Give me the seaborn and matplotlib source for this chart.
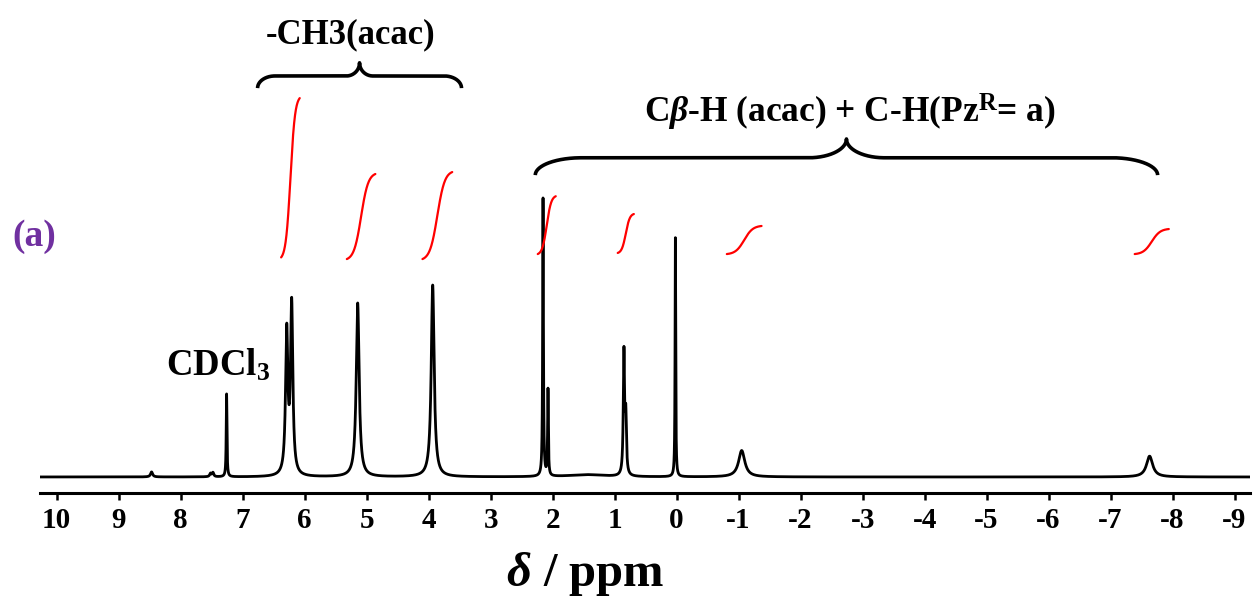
import numpy as np
import pandas as pd
import matplotlib
matplotlib.use("Agg")
import matplotlib.pyplot as plt
import seaborn as sns

# ---- spectrum peaks ----
peak_ppm = [8.47, 7.52, 7.48, 7.26, 6.29, 6.21, 5.145, 3.935, 2.155, 2.075, 1.45, 0.85, 0.82, 0.02, -1.05, -7.63]
peak_height = [1.8, 1.2, 1.5, 29.8, 51.0, 61.0, 62.5, 69.0, 100.0, 31.0, 0.8, 44.0, 20.0, 86.0, 9.5, 7.5]
peak_hwhm = [0.02, 0.015, 0.015, 0.007, 0.022, 0.022, 0.028, 0.028, 0.007, 0.007, 0.35, 0.012, 0.012, 0.006, 0.06, 0.06]

# ---- integral curves (start/end positions) ----
int_ppm_start = [6.38, 5.32, 4.10, 2.24, 0.95, -0.81, -7.39]
int_ppm_end = [6.08, 4.86, 3.62, 1.95, 0.69, -1.37, -7.94]
int_y_start = [79.0, 78.4, 78.4, 80.2, 80.6, 80.2, 80.2]
int_y_end = [136.3, 109.0, 109.7, 101.0, 94.6, 90.3, 89.2]

# ---- braces ----
brace_ppm_left = [6.76, 2.28]
brace_ppm_right = [3.47, -7.76]
brace_y_end = [139.9, 108.6]
brace_y_tip = [149.0, 121.6]

tick_values = list(range(10, -10, -1))
tick_labels = [str(v) for v in tick_values]

sns.set_theme(style="white")
plt.rcParams['font.family'] = ['Liberation Serif', 'DejaVu Serif']
plt.rcParams['font.weight'] = 'bold'
plt.rcParams['mathtext.fontset'] = 'custom'
plt.rcParams['mathtext.rm'] = 'Liberation Serif:bold'
plt.rcParams['mathtext.it'] = 'Liberation Serif:italic:bold'
plt.rcParams['mathtext.bf'] = 'Liberation Serif:bold'
plt.rcParams['axes.unicode_minus'] = False

fig = plt.figure(figsize=(12.54, 6.01), dpi=100)
ax = fig.add_axes([40 / 1254, 108 / 601, 1210 / 1254, 493 / 601])

ppm = np.linspace(10.4, -9.4, 60000)
intensity = np.zeros_like(ppm)
for c, h, g in zip(peak_ppm, peak_height, peak_hwhm):
    intensity += h / (1 + ((ppm - c) / g) ** 2)
df = pd.DataFrame({'ppm': ppm, 'intensity': intensity})
sns.lineplot(data=df, x='ppm', y='intensity', color='black', lw=2.0,
             estimator=None, sort=False, ax=ax)

# integral curves
t = np.linspace(0, 1, 200)
s = 1 / (1 + np.exp(-8 * (t - 0.5)))
s = (s - s[0]) / (s[-1] - s[0])
for x0, x1, y0, y1 in zip(int_ppm_start, int_ppm_end, int_y_start, int_y_end):
    ax.plot(x0 + (x1 - x0) * t, y0 + (y1 - y0) * s, color='red', lw=1.6)


def brace_path(a, b, p, n=120):
    th1 = np.linspace(np.pi, np.pi / 2, n)
    xa = a + a * np.cos(th1)
    ya = p * np.sin(th1)
    th2 = np.linspace(1.5 * np.pi, 2 * np.pi, n)
    xb = 0.5 - b + b * np.cos(th2)
    yb = 1 + (1 - p) * np.sin(th2)
    xl = np.concatenate([xa, xb])
    yl = np.concatenate([ya, yb])
    xr = 1 - xl[::-1]
    yr = yl[::-1]
    return np.concatenate([xl, xr]), np.concatenate([yl, yr])


for xl, xr, ye, yt, a, b in zip(brace_ppm_left, brace_ppm_right, brace_y_end, brace_y_tip,
                                [0.085, 0.074], [0.065, 0.061]):
    bx, by = brace_path(a, b, 0.48)
    ax.plot(xl + (xr - xl) * bx, ye + (yt - ye) * by, color='black', lw=2.6,
            solid_capstyle='butt', solid_joinstyle='round')

ax.set_xlim(10.27, -9.25)
ax.set_ylim(-5.76, 171.6)
ax.set_xticks(tick_values)
ax.set_xticklabels(tick_labels)
ax.set_yticks([])
for sp in ['top', 'left', 'right']:
    ax.spines[sp].set_visible(False)
ax.spines['bottom'].set_linewidth(2.2)
ax.spines['bottom'].set_color('black')
ax.tick_params(axis='x', direction='out', length=5, width=1.8, labelsize=21,
               pad=5, bottom=True, colors='black')
for lab in ax.get_xticklabels():
    lab.set_fontweight('bold')

ax.set_xlabel(r"$\delta$ / ppm", fontsize=35, fontweight='bold', color='black')
ax.xaxis.set_label_coords(0.451, -0.115)
ax.set_ylabel('')

ax.text(5.26, 159, "-CH3(acac)", fontsize=25, fontweight='bold', ha='center', va='center', color='black')
ax.text(-2.79, 131.3, r"C$\beta$-H (acac) + C-H(Pz$^{\mathrm{R}}$= a)", fontsize=25.5,
        fontweight='bold', ha='center', va='center', color='black')
ax.text(7.40, 40, r"CDCl$_3$", fontsize=26.5, fontweight='bold', ha='center', va='center', color='black')
fig.text(34 / 1254, 1 - 236 / 601, "(a)", fontsize=27, fontweight='bold', ha='center', va='center',
         color='#7030A0')

fig.savefig("out.png", dpi=100)
